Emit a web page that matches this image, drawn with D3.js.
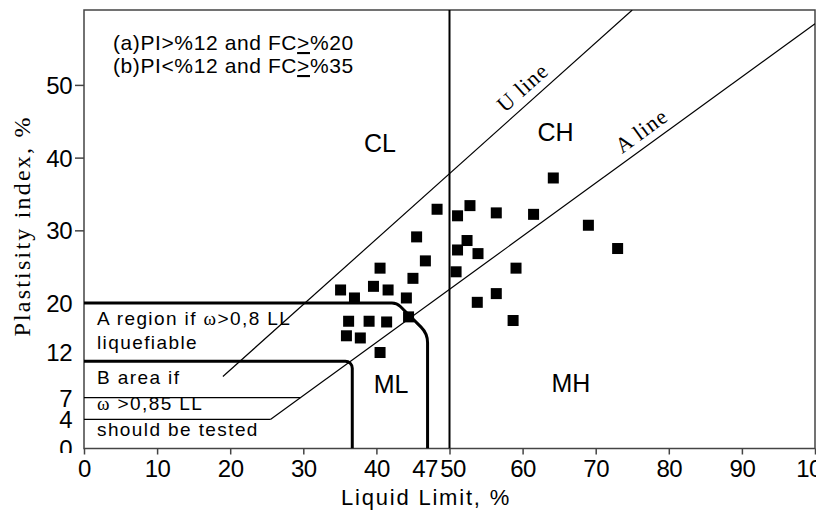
<!DOCTYPE html>
<html lang="en">
<head>
<meta charset="UTF-8">
<title>Plasticity chart</title>
<script src="https://cdn.jsdelivr.net/npm/d3@7"></script>
<style>
    html, body {
        margin: 0;
        padding: 0;
        background: #fff;
    }

    svg text {
        font-family: "Liberation Sans", Arial, sans-serif;
        fill: #000;
    }

    svg .serif {
        font-family: "Liberation Serif", "Times New Roman", serif;
    }
</style>
</head>
<body>
<svg id="chart" width="816" height="515"></svg>
<script>
    // samples: liquid limit and plasticity index (%)
    let liquidLimit = [48.3, 51.1, 52.8, 56.4, 61.5, 64.2, 69.0, 73.0, 45.5, 52.4, 51.1, 53.9, 46.7, 40.5, 50.9, 59.1,
        45.0, 35.1, 39.6, 41.6, 37.0, 44.1, 53.8, 56.4, 44.4, 58.7, 36.2, 39.0, 41.4, 35.9, 37.8, 40.5];
    let plasticityIndex = [32.9, 32.0, 33.4, 32.4, 32.2, 37.2, 30.7, 27.5, 29.1, 28.6, 27.3, 26.8, 25.8, 24.8, 24.3, 24.8,
        23.4, 21.8, 22.3, 21.8, 20.7, 20.7, 20.1, 21.3, 18.1, 17.6, 17.5, 17.5, 17.4, 15.5, 15.2, 13.2];

    let xTicks = [0, 10, 20, 30, 40, 47, 50, 60, 70, 80, 90, 100];
    let yTicks = [0, 4, 7, 12, 20, 30, 40, 50];
    let yTickMarks = [30, 40, 50];

    // reference lines as [LL, PI] pairs
    let uLine = [[19, 9.9], [75, 60.3]];
    let aLine = [[25.5, 4], [100, 58.4]];
    let regionA = [[0, 20], [42.8, 20], [47, 15.8], [47, 0]];
    let regionB = [[0, 12], [36.7, 12], [36.7, 0]];
    let line7 = [[0, 7], [29.6, 7]];
    let line4 = [[0, 4], [25.5, 4]];
    let splitLL = 50;

    let svg = d3.select("#chart");
    let x = d3.scaleLinear().domain([0, 100]).range([84, 815]);
    let y = d3.scaleLinear().domain([0, 60.3]).range([448.5, 10]);

    let defs = svg.append("defs");
    defs.append("clipPath").attr("id", "plot")
        .append("rect")
        .attr("x", x(0)).attr("y", y(60.3))
        .attr("width", x(100) - x(0)).attr("height", y(0) - y(60.3));
    // the "0" on the y axis is cut at its bottom, as in the original
    defs.append("clipPath").attr("id", "zero")
        .append("rect").attr("x", -80).attr("y", -30).attr("width", 80).attr("height", 34);

    // frame
    svg.append("rect")
        .attr("x", x(0)).attr("y", y(60.3))
        .attr("width", x(100) - x(0)).attr("height", y(0) - y(60.3))
        .attr("fill", "none").attr("stroke", "#444").attr("stroke-width", 1.5);

    // x axis
    let xAxis = svg.append("g")
        .attr("transform", "translate(0," + y(0) + ")")
        .call(d3.axisBottom(x).tickValues(xTicks).tickSize(6).tickPadding(5).tickFormat(d3.format("d")));
    xAxis.select(".domain").remove();
    xAxis.selectAll(".tick line").attr("stroke", "#444").attr("stroke-width", 1.5)
        .filter(d => d === 47).remove();
    xAxis.selectAll(".tick text")
        .style("font-size", "24px").style("letter-spacing", "-0.5px")
        .attr("dx", d => d === 47 ? -3 : (d === 50 ? 3 : 0));

    // y axis
    let yAxis = svg.append("g")
        .attr("transform", "translate(" + x(0) + ",0)")
        .call(d3.axisLeft(y).tickValues(yTicks).tickSize(9).tickPadding(4));
    yAxis.select(".domain").remove();
    yAxis.selectAll(".tick line").attr("stroke", "#444").attr("stroke-width", 1.5)
        .filter(d => yTickMarks.indexOf(d) < 0).remove();
    yAxis.selectAll(".tick text")
        .attr("x", -12)
        .attr("dy", d => d === 12 ? "-0.05em" : "0.35em")
        .style("font-size", "24px").style("letter-spacing", "-0.5px");
    yAxis.selectAll(".tick text").filter(d => d === 0).attr("clip-path", "url(#zero)");

    let pair = d3.line().x(d => x(d[0])).y(d => y(d[1]));
    let plot = svg.append("g").attr("clip-path", "url(#plot)");

    // rounded corner polyline
    function rounded(pts, radii) {
        let p = d3.path();
        let q = pts.map(d => [x(d[0]), y(d[1])]);
        p.moveTo(q[0][0], q[0][1]);
        for (let i = 1; i < q.length - 1; i++) {
            p.arcTo(q[i][0], q[i][1], q[i + 1][0], q[i + 1][1], radii[i - 1]);
        }
        p.lineTo(q[q.length - 1][0], q[q.length - 1][1]);
        return p.toString();
    }

    [line7, line4, uLine, aLine].forEach(function (l) {
        plot.append("path").attr("d", pair(l))
            .attr("fill", "none").attr("stroke", "#000").attr("stroke-width", 1.2);
    });

    plot.append("line")
        .attr("x1", x(splitLL)).attr("x2", x(splitLL))
        .attr("y1", y(0)).attr("y2", y(60.3))
        .attr("stroke", "#000").attr("stroke-width", 2);

    plot.append("path").attr("d", rounded(regionA, [12, 22]))
        .attr("fill", "none").attr("stroke", "#000").attr("stroke-width", 3);
    plot.append("path").attr("d", rounded(regionB, [7]))
        .attr("fill", "none").attr("stroke", "#000").attr("stroke-width", 3);

    // line labels, rotated along the line
    function lineLabel(l, ll, txt, off) {
        let p0 = [x(l[0][0]), y(l[0][1])], p1 = [x(l[1][0]), y(l[1][1])];
        let ang = Math.atan2(p1[1] - p0[1], p1[0] - p0[0]) * 180 / Math.PI;
        let t = (ll - l[0][0]) / (l[1][0] - l[0][0]);
        let px = p0[0] + t * (p1[0] - p0[0]), py = p0[1] + t * (p1[1] - p0[1]);
        svg.append("text").attr("class", "serif")
            .attr("transform", "translate(" + px + "," + py + ") rotate(" + ang + ")")
            .attr("y", -off)
            .attr("text-anchor", "middle")
            .style("font-size", "22px").style("letter-spacing", "1px")
            .text(txt);
    }
    lineLabel(uLine, 61.4, "U line", 8);
    lineLabel(aLine, 77.5, "A line", 8);

    // markers
    let sz = 11;
    svg.append("g").selectAll("rect")
        .data(liquidLimit)
        .enter().append("rect")
        .attr("x", (d, i) => x(d) - sz / 2)
        .attr("y", (d, i) => y(plasticityIndex[i]) - sz / 2)
        .attr("width", sz).attr("height", sz)
        .attr("fill", "#000");

    // zone labels
    let zones = [["CL", 40.5, 42.0], ["CH", 64.5, 43.5], ["ML", 42, 8.8], ["MH", 66.6, 9.0]];
    svg.append("g").selectAll("text")
        .data(zones).enter().append("text")
        .attr("x", d => x(d[1])).attr("y", d => y(d[2]))
        .attr("text-anchor", "middle").attr("dy", "0.35em")
        .style("font-size", "25px")
        .text(d => d[0]);

    // criteria notes
    let notes = svg.append("g").style("font-size", "21px").style("letter-spacing", "0.6px");
    let n1 = notes.append("text").attr("x", 113).attr("y", 50);
    n1.append("tspan").text("(a)PI>%12 and FC");
    n1.append("tspan").style("text-decoration", "underline").text(">");
    n1.append("tspan").text("%20");
    let n2 = notes.append("text").attr("x", 113).attr("y", 73);
    n2.append("tspan").text("(b)PI<%12 and FC");
    n2.append("tspan").style("text-decoration", "underline").text(">");
    n2.append("tspan").text("%35");

    let areaText = svg.append("g").style("font-size", "19px").style("letter-spacing", "1.4px");
    let a1 = areaText.append("text").attr("x", 97).attr("y", 325);
    a1.append("tspan").text("A region if ");
    a1.append("tspan").attr("class", "serif").text("ω");
    a1.append("tspan").text(">0,8 LL");
    areaText.append("text").attr("x", 97).attr("y", 349).text("liquefiable");
    areaText.append("text").attr("x", 97).attr("y", 384).text("B area if");
    let b2 = areaText.append("text").attr("x", 97).attr("y", 410);
    b2.append("tspan").attr("class", "serif").text("ω");
    b2.append("tspan").text(" >0,85 LL");
    areaText.append("text").attr("x", 97).attr("y", 436).text("should be tested");

    // axis titles
    svg.append("text")
        .attr("x", 426).attr("y", 505)
        .attr("text-anchor", "middle")
        .style("font-size", "22px").style("letter-spacing", "1.8px")
        .text("Liquid Limit, %");
    svg.append("text").attr("class", "serif")
        .attr("transform", "translate(30,226) rotate(-90)")
        .attr("text-anchor", "middle")
        .style("font-size", "24px").style("letter-spacing", "2.2px")
        .text("Plastisity index, %");
</script>
</body>
</html>
